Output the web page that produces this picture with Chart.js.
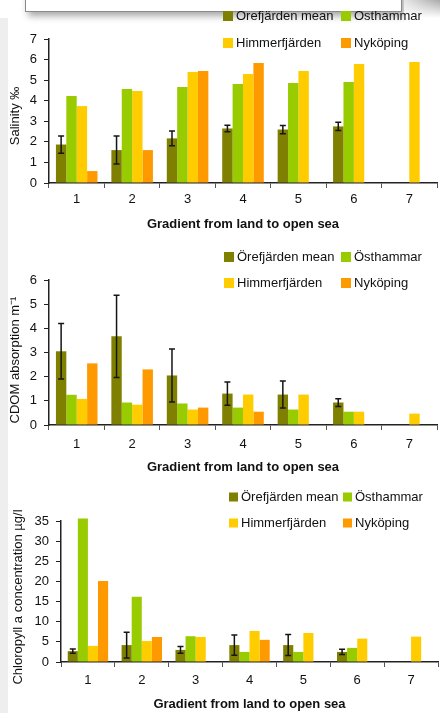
<!DOCTYPE html>
<html>
<head>
<meta charset="utf-8">
<script src="https://cdn.jsdelivr.net/npm/chart.js@4.4.1/dist/chart.umd.min.js"></script>
<style>
  html, body { margin: 0; padding: 0; background: #ffffff; }
  body { width: 440px; height: 713px; position: relative; overflow: hidden; }
  canvas { position: absolute; left: 0; }
  .deco { position: absolute; }
</style>
</head>
<body>
<div class="deco" style="left:0;top:18px;width:8px;height:700px;background:#eeeeee"></div>
<div class="deco" style="left:25px;top:-12px;width:375px;height:22px;background:#fff;border:1px solid #8a8a8a;box-shadow:3px 4px 7px rgba(0,0,0,0.35)"></div>
<div class="deco" style="left:404px;top:0;width:36px;height:18px;background:linear-gradient(to bottom,rgba(255,255,255,0),#ffffff),linear-gradient(to right,#e6e6e6,#a9a9a9)"></div>

<canvas id="salinity" width="440" height="240" style="top:0"></canvas>
<canvas id="cdom" width="440" height="240" style="top:240px"></canvas>
<canvas id="chl" width="440" height="233" style="top:480px"></canvas>

<script>
// Sampling stations along the gradient
const gradientLabels = ['1', '2', '3', '4', '5', '6', '7'];

// Salinity (‰)
const salOrefjarden    = [1.87, 1.60, 2.17, 2.65, 2.60, 2.75, null];
const salOrefjardenErr = [0.42, 0.68, 0.36, 0.16, 0.20, 0.20, null];
const salOsthammar     = [4.23, 4.57, 4.67, 4.81, 4.86, 4.91, null];
const salHimmerfjarden = [3.74, 4.47, 5.40, 5.30, 5.44, 5.79, 5.88];
const salNykoping      = [0.58, 1.60, 5.44, 5.83, null, null, null];

// CDOM absorption (m^-1)
const cdomOrefjarden    = [3.05, 3.67, 2.05, 1.30, 1.26, 0.93, null];
const cdomOrefjardenErr = [1.15, 1.70, 1.10, 0.48, 0.56, 0.16, null];
const cdomOsthammar     = [1.25, 0.93, 0.89, 0.72, 0.64, 0.55, null];
const cdomHimmerfjarden = [1.08, 0.84, 0.64, 1.26, 1.26, 0.55, 0.47];
const cdomNykoping      = [2.55, 2.30, 0.72, 0.55, null, null, null];

// Chlorophyll a concentration (µg/l)
const chlOrefjarden    = [2.7, 4.2, 3.0, 4.2, 4.2, 2.5, null];
const chlOrefjardenErr = [0.5, 3.2, 0.85, 2.5, 2.6, 0.65, null];
const chlOsthammar     = [35.6, 16.2, 6.4, 2.5, 2.5, 3.5, null];
const chlHimmerfjarden = [4.0, 5.2, 6.2, 7.7, 7.2, 5.8, 6.3];
const chlNykoping      = [20.1, 6.2, null, 5.5, null, null, null];

// Tick values for each y axis
const salTicks  = { max: 7, step: 1 };
const cdomTicks = { max: 6, step: 1 };
const chlTicks  = { max: 35, step: 5 };

const COLORS = ['#808000', '#99cc00', '#ffcc00', '#ff9900'];
const FONT = "'Liberation Sans', Arial, sans-serif";
const TEXT = '#111111';

Chart.defaults.font.family = FONT;
Chart.defaults.font.size = 13;
Chart.defaults.color = TEXT;

// Vertical error bars with caps on the bars of any dataset carrying `errors`
const errorBarPlugin = {
  id: 'errorBars',
  afterDatasetsDraw(chart) {
    const ctx = chart.ctx;
    const yScale = chart.scales.y;
    chart.data.datasets.forEach((ds, di) => {
      if (!ds.errors) return;
      const meta = chart.getDatasetMeta(di);
      ctx.save();
      ctx.strokeStyle = '#151515';
      ctx.lineWidth = 1.5;
      ds.data.forEach((v, i) => {
        const e = ds.errors[i];
        if (v == null || e == null) return;
        const x = meta.data[i].x;
        const yTop = yScale.getPixelForValue(v + e);
        const yBot = yScale.getPixelForValue(v - e);
        ctx.beginPath();
        ctx.moveTo(x, yTop); ctx.lineTo(x, yBot);
        ctx.moveTo(x - 3, yTop); ctx.lineTo(x + 3, yTop);
        ctx.moveTo(x - 3, yBot); ctx.lineTo(x + 3, yBot);
        ctx.stroke();
      });
      ctx.restore();
    });
  }
};

// Two-column legend and rotated y-axis title placed freely on the canvas
const decorPlugin = {
  id: 'decor',
  afterDraw(chart, args, opts) {
    const ctx = chart.ctx;
    ctx.save();
    ctx.font = `13px ${FONT}`;
    ctx.textBaseline = 'middle';
    ctx.textAlign = 'left';
    chart.data.datasets.forEach((ds, i) => {
      const x = opts.cols[i % 2];
      const y = opts.rows[Math.floor(i / 2)];
      ctx.fillStyle = ds.backgroundColor;
      ctx.fillRect(x, y - opts.box / 2, opts.box, opts.box);
      ctx.fillStyle = TEXT;
      ctx.fillText(ds.label, x + opts.box + 3, y + 0.5);
    });
    ctx.translate(opts.titleX, opts.titleY);
    ctx.rotate(-Math.PI / 2);
    ctx.textAlign = 'center';
    ctx.fillText(opts.title, 0, 0);
    ctx.restore();
  }
};

function makeChart(id, series, errors, names, ticks, geo) {
  const datasets = series.map((data, i) => ({
    label: names[i],
    data: data,
    backgroundColor: COLORS[i],
    borderWidth: 0,
    barPercentage: 1.0,
    categoryPercentage: 0.75,
    clip: false,
    errors: i === 0 ? errors : undefined
  }));
  return new Chart(document.getElementById(id), {
    type: 'bar',
    data: { labels: gradientLabels, datasets },
    plugins: [errorBarPlugin, decorPlugin],
    options: {
      responsive: false,
      animation: false,
      devicePixelRatio: 1,
      layout: { padding: { top: geo.top, right: geo.right, left: 0, bottom: 0 } },
      plugins: {
        legend: { display: false },
        tooltip: { enabled: false },
        decor: {
          cols: geo.legendCols, rows: geo.legendRows, box: geo.legendBox,
          title: geo.yTitle, titleX: geo.titleX, titleY: geo.titleY
        }
      },
      scales: {
        x: {
          grid: { display: true, drawOnChartArea: false, drawTicks: true, tickLength: 5, color: '#555', offset: true },
          border: { display: true, color: '#222', width: 1.5 },
          ticks: { padding: geo.xTickPad, font: { size: 13 }, color: TEXT },
          title: {
            display: true, text: 'Gradient from land to open sea',
            font: { size: 13, weight: 'bold' }, color: TEXT,
            padding: { top: 0, bottom: geo.xTitlePad }
          },
          afterFit(s) { s.height = geo.xHeight; }
        },
        y: {
          min: 0, max: ticks.max,
          grid: { display: true, drawOnChartArea: false, drawTicks: true, tickLength: 5, color: '#222' },
          border: { display: true, color: '#222', width: 1.5 },
          ticks: { stepSize: ticks.step, padding: 7, font: { size: 13 }, color: TEXT },
          afterFit(s) { s.width = geo.yWidth; }
        }
      }
    }
  });
}

makeChart('salinity',
  [salOrefjarden, salOsthammar, salHimmerfjarden, salNykoping], salOrefjardenErr,
  ['Orefjärden mean', 'Osthammar', 'Himmerfjärden', 'Nyköping'], salTicks,
  { top: 39, right: 3, yWidth: 49, xHeight: 57, xTickPad: 4, xTitlePad: 8,
    legendCols: [223, 341], legendRows: [16, 43], legendBox: 10,
    yTitle: 'Salinity ‰', titleX: 15, titleY: 116 });

makeChart('cdom',
  [cdomOrefjarden, cdomOsthammar, cdomHimmerfjarden, cdomNykoping], cdomOrefjardenErr,
  ['Örefjärden mean', 'Östhammar', 'Himmerfjärden', 'Nyköping'], cdomTicks,
  { top: 40, right: 3, yWidth: 49, xHeight: 55, xTickPad: 7, xTitlePad: 5,
    legendCols: [224, 341], legendRows: [17, 43], legendBox: 10,
    yTitle: 'CDOM absorption m⁻¹', titleX: 15, titleY: 120 });

makeChart('chl',
  [chlOrefjarden, chlOsthammar, chlHimmerfjarden, chlNykoping], chlOrefjardenErr,
  ['Örefjärden mean', 'Östhammar', 'Himmerfjärden', 'Nyköping'], chlTicks,
  { top: 41, right: 2, yWidth: 61, xHeight: 51, xTickPad: 6, xTitlePad: 1,
    legendCols: [229, 343], legendRows: [17, 43], legendBox: 9,
    yTitle: 'Chloropyll a concentration µg/l', titleX: 18, titleY: 117 });
</script>
</body>
</html>
